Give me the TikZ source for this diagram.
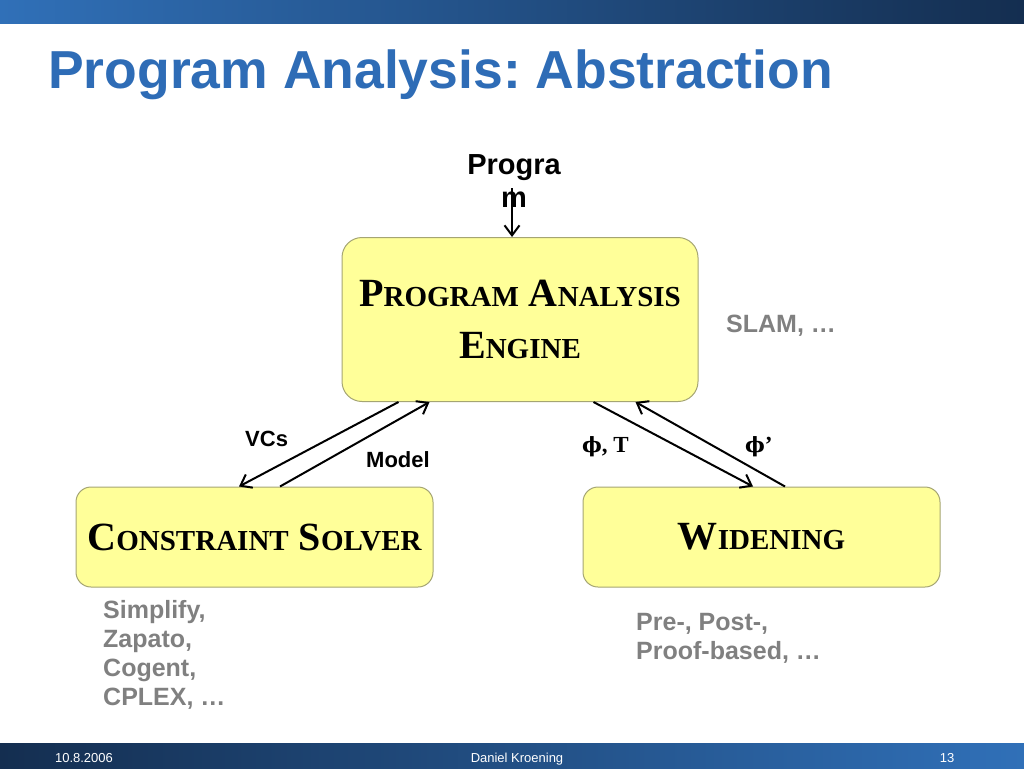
\documentclass[tikz,border=0pt]{standalone}
\usepackage{fontspec}
\setmainfont{Liberation Serif}
\setsansfont{Liberation Sans}
\newfontfamily\phifont{DejaVu Serif}
\usepackage{xcolor}
\usepackage{tikz}
\usetikzlibrary{positioning,calc,arrows.meta}

\definecolor{titleblue}{RGB}{46,108,182}
\definecolor{barblue}{RGB}{48,112,184}
\definecolor{bardark}{RGB}{20,46,80}
\definecolor{boxfill}{RGB}{255,255,153}
\definecolor{boxedge}{RGB}{165,165,115}
\definecolor{notegray}{RGB}{128,128,128}

% big first letter, small caps for the rest
\newcommand{\capsc}[2]{{\fontsize{40}{52}\selectfont #1}{\fontsize{29}{52}\selectfont #2}}
\newcommand{\px}[1]{\fontsize{#1}{#1}\selectfont}
\frenchspacing

\begin{document}
\begin{tikzpicture}[x=1pt, y=-1pt,
    >={Straight Barb[length=10pt,width=15pt]},
    box/.style={draw=boxedge, fill=boxfill, line width=1pt, rounded corners=20pt, align=center,
                font=\rmfamily\bfseries\fontsize{40}{52}\selectfont},
    flow/.style={->, line width=2pt},
    lbl/.style={inner sep=0pt, font=\sffamily\bfseries\px{22}},
    note/.style={inner sep=0pt, align=left, text=notegray, font=\sffamily\bfseries\fontsize{25}{29}\selectfont}]
    \useasboundingbox (0,0) rectangle (1024,768);

    % bars
    \shade[left color=barblue, right color=bardark] (0,0) rectangle (1024,24);
    \shade[left color=bardark, right color=barblue] (0,743) rectangle (1024,768);
    \node[anchor=base west, inner sep=0pt, text=titleblue, font=\sffamily\bfseries\px{53.5}] (title) at (48,88) {Program Analysis: Abstraction};

    % boxes
    \node[box, minimum width=356, minimum height=164] (engine) at (520,319.5) {\capsc{P}{ROGRAM} \capsc{A}{NALYSIS}\\\capsc{E}{NGINE}};
    \node[box, minimum width=357, minimum height=100, rounded corners=15pt] (solver) at (254.5,537) {\capsc{C}{ONSTRAINT} \capsc{S}{OLVER}};
    \node[box, minimum width=357, minimum height=100, rounded corners=15pt] (widen) at (761.5,537) {\capsc{W}{IDENING}};

    % input
    \node[anchor=north, inner sep=0pt, align=center, font=\sffamily\bfseries\fontsize{29}{33}\selectfont] (prog) at (514,154) {Progra\\m};
    \coordinate (progtip) at (512,188);
    \draw[flow] (progtip) -- (progtip |- engine.north);

    % arrows between boxes
    \draw[flow] ([xshift=57pt]engine.south west) -- ([xshift=-15.5pt]solver.north);
    \draw[flow] ([xshift=25.5pt]solver.north) -- ([xshift=88pt]engine.south west);
    \draw[flow] ([xshift=-105pt]engine.south east) -- ([xshift=-8.5pt]widen.north);
    \draw[flow] ([xshift=23.5pt]widen.north) -- ([xshift=-63pt]engine.south east);

    \node[lbl, anchor=base west] (vcs) at (245,446) {VCs};
    \node[lbl, anchor=base west] (model) at (366,467) {Model};
    \node[anchor=base west, inner sep=0pt, font=\rmfamily\bfseries\px{23}] (phit) at (582,452) {{\phifont\px{21}ϕ}, T};
    \node[anchor=base west, inner sep=0pt, font=\rmfamily\bfseries\px{23}] (phip) at (745,452) {{\phifont\px{21}ϕ}’};

    % tools
    \node[note, anchor=base west] (slam) at (726,332) {SLAM, …};
    \node[note, anchor=north west] (solvers) at (103,600) {Simplify,\\Zapato,\\Cogent,\\CPLEX, …};
    \node[note, anchor=north west] (widenings) at (636,613) {Pre-, Post-,\\Proof-based, …};

    % footer
    \node[anchor=base, inner sep=0pt, text=white, font=\sffamily\px{13}] (date) at (84,762) {10.8.2006};
    \node[anchor=base, inner sep=0pt, text=white, font=\sffamily\px{13}] (author) at (517,762) {Daniel Kroening};
    \node[anchor=base, inner sep=0pt, text=white, font=\sffamily\px{13}] (page) at (947,762) {13};
\end{tikzpicture}
\end{document}
